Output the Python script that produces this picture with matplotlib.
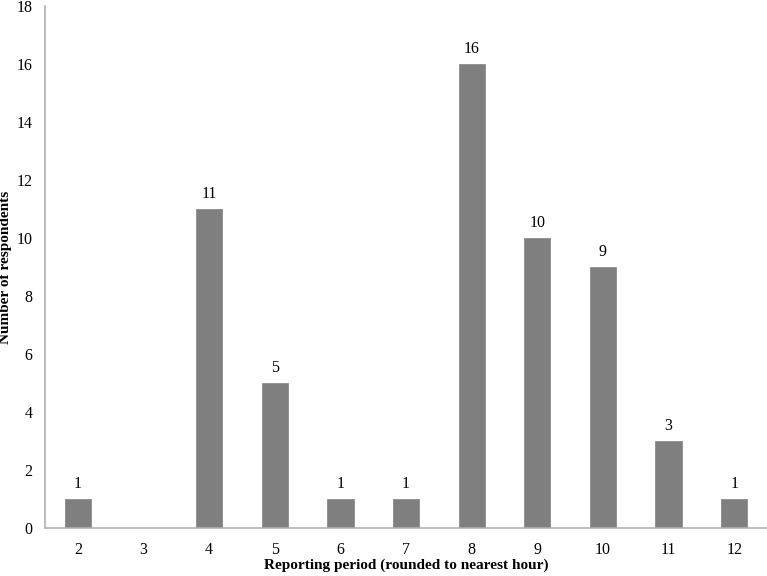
import numpy as np
import matplotlib.pyplot as plt

plt.rcParams['font.family'] = ['Liberation Serif', 'DejaVu Serif']

hours = [2, 3, 4, 5, 6, 7, 8, 9, 10, 11, 12]
counts = [1, 0, 11, 5, 1, 1, 16, 10, 9, 3, 1]
yticks = list(range(0, 19, 2))

fig = plt.figure(figsize=(7.67, 5.76), dpi=100)
ax = fig.add_axes([0.0587, 0.0833, 0.9413, 0.9063])

x = np.arange(len(hours))
bars = ax.bar(x, counts, width=0.4, color='#7f7f7f', edgecolor='#8c8c8c', linewidth=0.6)

# labels on top of bars (skip empty category)
for xi, c in zip(x, counts):
    if c > 0:
        ax.text(xi, c + 0.25, str(c), ha='center', va='bottom', fontsize=11.5)

ax.set_xlim(-0.5, len(hours) - 0.5)
ax.set_ylim(0, 18)
ax.set_xticks(x)
ax.set_xticklabels([str(h) for h in hours], fontsize=11.5)
ax.set_yticks(yticks)
ax.set_yticklabels([str(t) for t in yticks], fontsize=11.5)
ax.tick_params(length=0, pad=10)
ax.tick_params(axis='y', pad=9)

for s in ['top', 'right']:
    ax.spines[s].set_visible(False)
for s in ['left', 'bottom']:
    ax.spines[s].set_color('#b0b0b0')
    ax.spines[s].set_linewidth(1.2)

ax.set_xlabel('Reporting period (rounded to nearest hour)', fontsize=11, fontweight='bold', labelpad=0.5)
ax.set_ylabel('Number of respondents', fontsize=11, fontweight='bold')
ax.yaxis.set_label_coords(-0.046, 0.5)

fig.savefig('out.png', dpi=100)
